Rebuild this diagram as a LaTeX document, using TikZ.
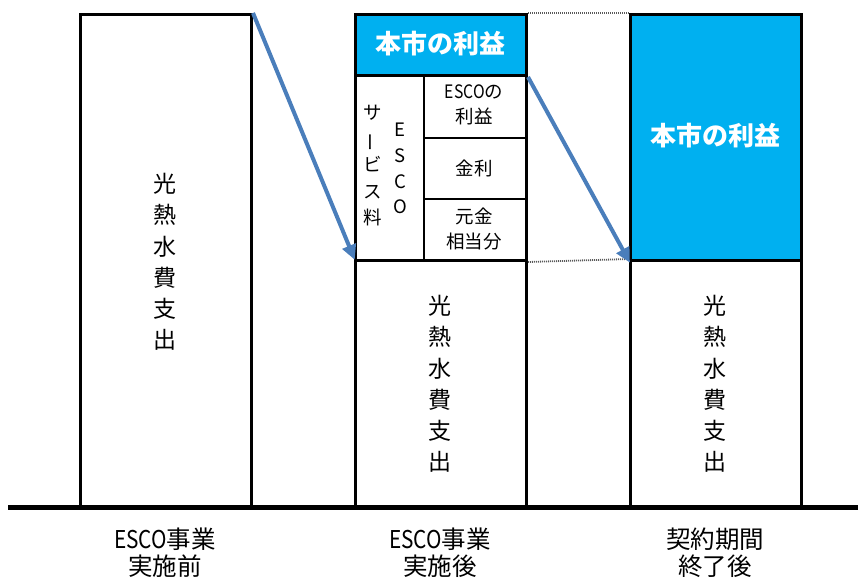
\documentclass[tikz,border=0pt]{standalone}
\usepackage{fontspec}
\setmainfont{Noto Sans CJK JP}
\usetikzlibrary{arrows.meta}
\definecolor{cyanhdr}{RGB}{0,176,240}
\definecolor{arrowblue}{RGB}{74,126,187}
\newcommand{\narrow}[1]{\scalebox{0.85}[1]{#1}}
\begin{document}
\begin{tikzpicture}[x=1pt,y=-1pt,
  bar/.style={draw=black, line width=3pt, rectangle, inner sep=0pt, anchor=north west},
  hdr/.style={bar, fill=cyanhdr},
  cell/.style={draw=black, line width=2.2pt, rectangle, inner sep=0pt, anchor=north west},
  vtext/.style={align=center, font=\fontsize{23}{31.3}\selectfont},
  smalltext/.style={align=center, font=\fontsize{18.5}{25}\selectfont},
  labeltext/.style={align=center, font=\fontsize{24.5}{27}\selectfont},
  hdrtext/.style={text=white, font=\fontsize{26}{30}\selectfont\bfseries},
  flow/.style={draw=arrowblue, line width=4pt, -{Triangle[length=15pt,width=14pt]}, shorten >=-2pt},
  dotline/.style={draw=gray!70!black, line width=1.8pt, dash pattern=on 1pt off 1pt}
]
\useasboundingbox (0,0) rectangle (858,580);
% bars
\node[bar, minimum width=171pt, minimum height=494pt] (leftbar) at (79,13) {};
\node[hdr, minimum width=171pt, minimum height=61pt] (midtop) at (354,13) {};
\node[bar, minimum width=171pt, minimum height=185pt] (esco) at (354,74) {};
\node[bar, minimum width=171pt, minimum height=248pt] (midlow) at (354,259) {};
\node[hdr, minimum width=171pt, minimum height=246pt] (righttop) at (629,13) {};
\node[bar, minimum width=171pt, minimum height=248pt] (rightlow) at (629,259) {};
% inner cells of ESCO service
\node[cell, minimum width=102pt, minimum height=63pt] (c1) at (423,74) {};
\node[cell, minimum width=102pt, minimum height=61pt] (c2) at (423,137) {};
\node[cell, minimum width=102pt, minimum height=61pt] (c3) at (423,198) {};
% redraw outer borders on top
\node[bar, minimum width=171pt, minimum height=185pt] at (354,74) {};
\node[bar, minimum width=171pt, minimum height=61pt] at (354,13) {};
% baseline
\coordinate (bl0) at (8,507);
\coordinate (bl1) at (858,507);
\draw[line width=5pt] (bl0) -- (bl1);
% dotted lines
\draw[dotline] (midtop.north east) -- (righttop.north west);
\draw[dotline] (esco.south east) -- (rightlow.north west);
% texts
\node[vtext] (t1) at (165,262) {光\\熱\\水\\費\\支\\出};
\node[vtext] (t2) at (440,384) {光\\熱\\水\\費\\支\\出};
\node[vtext] (t3) at (715,384) {光\\熱\\水\\費\\支\\出};
\node[hdrtext] (h1) at (440,44) {本市の利益};
\node[hdrtext] (h2) at (715,136) {本市の利益};
\node[smalltext] (e1) at (474,105) {\narrow{ESCO}の\\利益};
\node[smalltext] (e2) at (474,168) {金利};
\node[smalltext] (e3) at (474,229) {元金\\相当分};
\node[align=center, font=\fontsize{18.5}{25.7}\selectfont] (e4) at (400,168.5) {E\\S\\C\\O};
\node[align=center, font=\fontsize{18.5}{26.2}\selectfont] (e5) at (373,165.5) {サ\\\rotatebox[origin=c]{90}{ー}\\ビ\\ス\\料};
\node[labeltext] (l1) at (165,553) {\narrow{ESCO}事業\\実施前};
\node[labeltext] (l2) at (440,553) {\narrow{ESCO}事業\\実施後};
\node[labeltext] (l3) at (715,553) {契約期間\\終了後};
% arrows
\draw[flow] (leftbar.north east) -- ([yshift=4pt]esco.south west);
\draw[flow] (midtop.south east) -- ([yshift=1pt]righttop.south west);
\end{tikzpicture}
\end{document}
